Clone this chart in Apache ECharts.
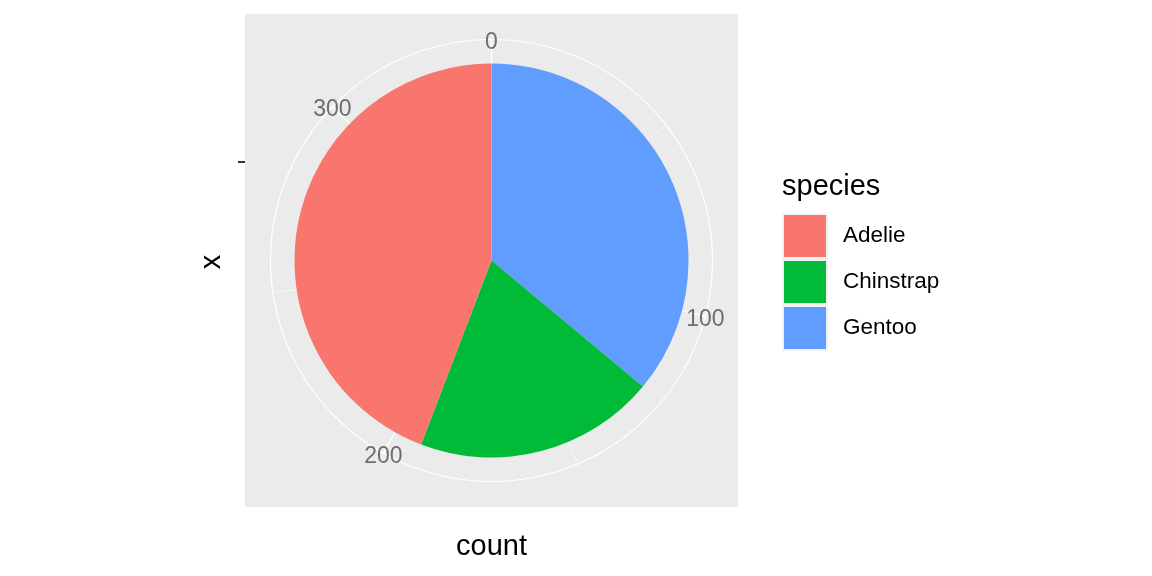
<!DOCTYPE html>
<html>
<head>
<meta charset="utf-8">
<script src="https://cdn.jsdelivr.net/npm/echarts@6/dist/echarts.min.js"></script>
<style>html,body{margin:0;padding:0;background:#fff}#c{width:1152px;height:576px}</style>
</head>
<body>
<div id="c"></div>
<script>
// Data
const species = ['Adelie', 'Chinstrap', 'Gentoo'];
const counts = [152, 68, 124];
const colors = ['#F8766D', '#00BA38', '#619CFF'];
const tickLabels = [0, 100, 200, 300];

const total = counts.reduce((a, b) => a + b, 0);
const FONT = '"Liberation Sans", Arial, sans-serif';
const center = [491.5, 260.5];

// ggplot stacks in reverse factor order from 0 clockwise
const stackOrder = [2, 1, 0];
const pieSeries = stackOrder.map(i => ({
  name: species[i],
  type: 'bar',
  coordinateSystem: 'polar',
  polarIndex: 2,
  stack: 'total',
  barWidth: '100%',
  data: [counts[i]],
  itemStyle: { color: colors[i] },
  emphasis: { disabled: true },
  silent: true
}));

const chart = echarts.init(document.getElementById('c'), null, { renderer: 'canvas' });
chart.setOption({
  animation: false,
  backgroundColor: '#ffffff',
  color: colors,
  graphic: [
    { type: 'rect', z: -10, silent: true, shape: { x: 245, y: 14, width: 493, height: 493 }, style: { fill: '#EBEBEB' } },
    { type: 'line', silent: true, shape: { x1: 238, y1: 162, x2: 245, y2: 162 }, style: { stroke: '#333333', lineWidth: 2 } },
    { type: 'text', silent: true, x: 212, y: 262, rotation: Math.PI / 2, style: { text: 'x', font: '29px ' + FONT, fill: '#000', align: 'center', verticalAlign: 'middle' } },
    { type: 'text', silent: true, x: 491.5, y: 547, style: { text: 'count', font: '29px ' + FONT, fill: '#000', align: 'center', verticalAlign: 'middle' } },
    { type: 'text', silent: true, x: 782, y: 187, style: { text: 'species', font: '29px ' + FONT, fill: '#000', align: 'left', verticalAlign: 'middle' } }
  ],
  legend: {
    orient: 'vertical',
    left: 777,
    top: 208,
    data: species,
    icon: 'rect',
    itemWidth: 44,
    itemHeight: 44,
    itemGap: 0,
    selectedMode: false,
    itemStyle: { borderColor: '#F2F2F2', borderWidth: 2 },
    textStyle: { fontSize: 22.5, fontFamily: FONT, color: '#000', padding: [0, 0, 0, 11] }
  },
  polar: [
    { center: center, radius: 221 },
    { center: center, radius: 221 },
    { center: center, radius: 197 }
  ],
  angleAxis: [
    {
      polarIndex: 0, type: 'value', min: 0, max: total, interval: 100, startAngle: 90, clockwise: true,
      axisLine: { show: true, lineStyle: { color: '#FFFFFF', width: 1.2 } },
      axisTick: { show: false }, axisLabel: { show: false },
      splitLine: { show: true, lineStyle: { color: '#FFFFFF', width: 1.3 } }
    },
    {
      polarIndex: 1, type: 'value', min: 0, max: total, interval: 50, startAngle: 90, clockwise: true,
      axisLine: { show: false }, axisTick: { show: false }, axisLabel: { show: false },
      splitLine: { show: true, lineStyle: { color: '#FFFFFF', width: 0.6 } }
    },
    {
      polarIndex: 2, type: 'value', min: 0, max: total, startAngle: 90, clockwise: true,
      axisLine: { show: false }, axisTick: { show: false }, axisLabel: { show: false }, splitLine: { show: false }
    }
  ],
  radiusAxis: [
    { polarIndex: 0, type: 'value', min: 0, max: 1, axisLine: { show: false }, axisTick: { show: false }, axisLabel: { show: false }, splitLine: { show: false } },
    { polarIndex: 1, type: 'value', min: 0, max: 1, axisLine: { show: false }, axisTick: { show: false }, axisLabel: { show: false }, splitLine: { show: false } },
    { polarIndex: 2, type: 'category', data: [''], axisLine: { show: false }, axisTick: { show: false }, axisLabel: { show: false }, splitLine: { show: false } }
  ],
  series: pieSeries.concat([{
    type: 'scatter',
    coordinateSystem: 'polar',
    polarIndex: 0,
    symbolSize: 1,
    silent: true,
    z: 5,
    itemStyle: { color: 'rgba(0,0,0,0)' },
    data: tickLabels.map(v => [1, v]),
    label: {
      show: true, position: 'inside', offset: [0, 3],
      formatter: p => String(p.value[1]),
      fontSize: 23, fontFamily: FONT, color: '#4D4D4D'
    }
  }])
});
</script>
</body>
</html>
